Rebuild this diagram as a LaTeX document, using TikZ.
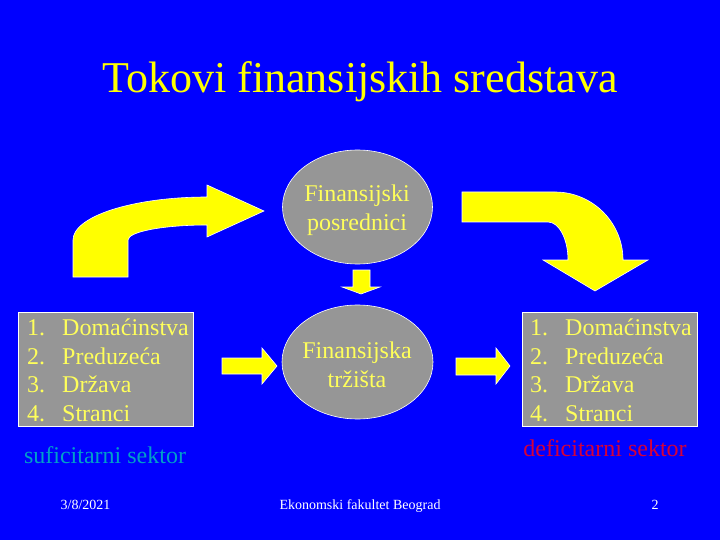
\documentclass[tikz,border=0pt]{standalone}
\usepackage{fontspec}
\setmainfont{Liberation Serif}
\usetikzlibrary{shapes.geometric}
\definecolor{bg}{RGB}{0,0,255}
\definecolor{ylw}{RGB}{255,255,0}
\definecolor{paleylw}{RGB}{255,255,90}
\definecolor{grayfill}{RGB}{150,150,150}
\definecolor{surplus}{RGB}{0,160,200}
\definecolor{deficit}{RGB}{214,0,56}
\begin{document}
\begin{tikzpicture}[x=1pt,y=-1pt,
  arrowshape/.style={fill=ylw,draw=white,line width=0.6pt,line join=miter},
  bubble/.style={ellipse,fill=grayfill,draw=white,line width=0.6pt,inner sep=0pt},
  panel/.style={rectangle,fill=grayfill,draw=white,line width=0.6pt,inner sep=0pt,
    minimum width=175pt,minimum height=114pt},
  big/.style={font=\fontsize{24}{28}\selectfont,text=paleylw,inner sep=0pt},
  itemtxt/.style={big,anchor=base west},
  foot/.style={font=\fontsize{14}{16}\selectfont,text=white,inner sep=0pt,anchor=base}]
\fill[bg] (0,0) rectangle (720,540);
\useasboundingbox (0,0) rectangle (720,540);

% title
\node[anchor=base,font=\fontsize{44}{50}\selectfont,text=ylw,inner sep=0pt] (title) at (360,93) {Tokovi finansijskih sredstava};

% big curved arrow left (up then right)
\draw[arrowshape] (73,277) -- (73,240)
  .. controls (73,216.3) and (133,197) .. (207,197)
  -- (207,185) -- (264,211) -- (207,237) -- (207,225)
  .. controls (163.4,225) and (128,231.7) .. (128,240)
  -- (128,277) -- cycle;

% big curved arrow right (right then down)
\draw[arrowshape] (462,192) -- (555,192)
  .. controls (592.5,192) and (623,222.5) .. (623,260)
  -- (648,260) -- (595,291) -- (543,260) -- (568,260)
  .. controls (568,239) and (559,222) .. (548,222)
  -- (462,222) -- cycle;

% ellipses
\node[bubble,minimum width=150pt,minimum height=114pt] (fp) at (357.5,207) {};
\node[big,anchor=base] (fp1) at (357,202) {Finansijski};
\node[big,anchor=base] (fp2) at (357,230) {posrednici};

\node[bubble,minimum width=151pt,minimum height=114pt] (ft) at (357.5,362) {};
\node[big,anchor=base] (ft1) at (357,358) {Finansijska};
\node[big,anchor=base] (ft2) at (357,387) {tržišta};

% small down arrow
\draw[arrowshape] (353,270) -- (370,270) -- (370,287) -- (380,287) -- (361,294)
  -- (342,287) -- (353,287) -- cycle;

% small right arrows
\draw[arrowshape] (222,358) -- (262,358) -- (262,348) -- (277,366) -- (262,384)
  -- (262,374) -- (222,374) -- cycle;
\draw[arrowshape] (456,358) -- (496,358) -- (496,348) -- (510,366) -- (496,384)
  -- (496,375) -- (456,375) -- cycle;

% left panel
\node[panel] (lp) at (105.5,369) {};
\node[itemtxt] (ln1) at (27,335) {1.};
\node[itemtxt] (lt1) at (62,335) {Domaćinstva};
\node[itemtxt] (ln2) at (27,364) {2.};
\node[itemtxt] (lt2) at (62,364) {Preduzeća};
\node[itemtxt] (ln3) at (27,392) {3.};
\node[itemtxt] (lt3) at (62,392) {Država};
\node[itemtxt] (ln4) at (27,421) {4.};
\node[itemtxt] (lt4) at (62,421) {Stranci};
\node[font=\fontsize{24}{28}\selectfont,text=surplus,inner sep=0pt,anchor=base] (sur) at (105,463) {suficitarni sektor};

% right panel
\node[panel] (rp) at (609.5,369) {};
\node[itemtxt] (rn1) at (530,335) {1.};
\node[itemtxt] (rt1) at (565,335) {Domaćinstva};
\node[itemtxt] (rn2) at (530,364) {2.};
\node[itemtxt] (rt2) at (565,364) {Preduzeća};
\node[itemtxt] (rn3) at (530,392) {3.};
\node[itemtxt] (rt3) at (565,392) {Država};
\node[itemtxt] (rn4) at (530,421) {4.};
\node[itemtxt] (rt4) at (565,421) {Stranci};
\node[font=\fontsize{24}{28}\selectfont,text=deficit,inner sep=0pt,anchor=base] (def) at (605,456) {deficitarni sektor};

% footer
\node[foot] (date) at (85.5,509) {3/8/2021};
\node[foot] (fac) at (360,509) {Ekonomski fakultet Beograd};
\node[foot] (page) at (655,509) {2};
\end{tikzpicture}
\end{document}
